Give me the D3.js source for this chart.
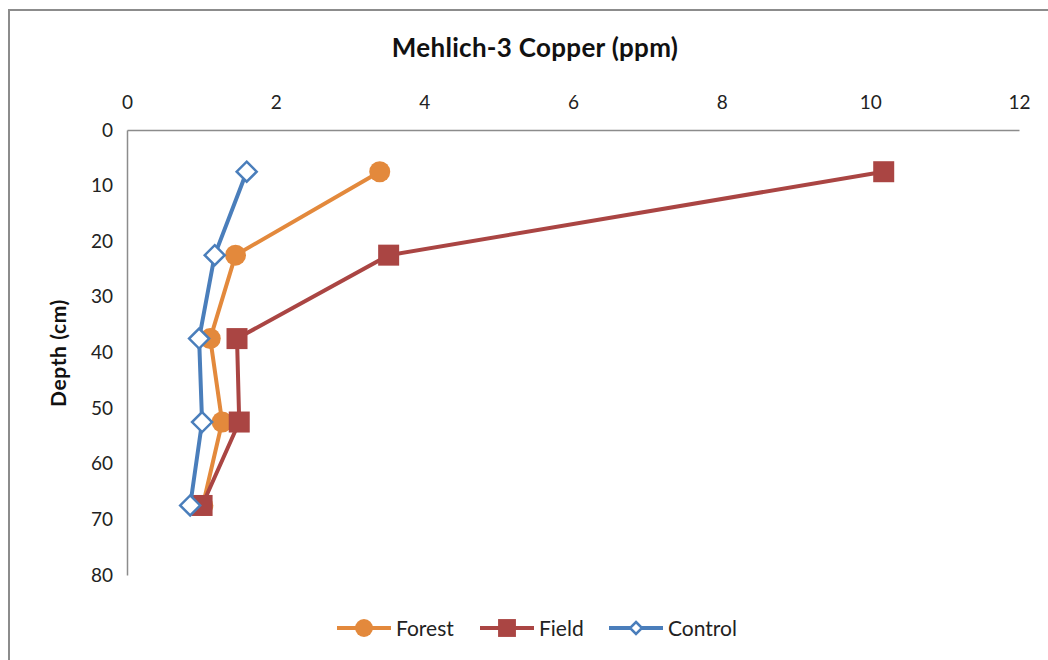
<!DOCTYPE html>
<html>
<head>
<meta charset="utf-8">
<script src="https://cdn.jsdelivr.net/npm/d3@7"></script>
<style>
  html, body { margin: 0; padding: 0; background: #fff; }
  svg { display: block; }
  text { font-family: Lato, "Open Sans", sans-serif; }
</style>
</head>
<body>
<svg id="chart" width="1048" height="660"></svg>
<script>
// Sampling depths (cm) and Mehlich-3 copper concentrations (ppm)
const depths = [7.5, 22.5, 37.5, 52.5, 67.5];
const forest = [3.40, 1.46, 1.12, 1.28, 1.02];
const field = [10.18, 3.52, 1.48, 1.51, 1.01];
const control = [1.61, 1.18, 0.97, 1.01, 0.85];
const xTicks = [0, 2, 4, 6, 8, 10, 12];
const yTicks = [0, 10, 20, 30, 40, 50, 60, 70, 80];

const series = [
  { name: "Forest", values: forest, color: "#E3893C", marker: "circle" },
  { name: "Field", values: field, color: "#AA4543", marker: "square" },
  { name: "Control", values: control, color: "#4A7EBB", marker: "diamond" }
];

const svg = d3.select("#chart");

// Outer frame
svg.append("rect")
  .attr("x", 9).attr("y", 10)
  .attr("width", 1060).attr("height", 680)
  .attr("fill", "none").attr("stroke", "#8c8c8c").attr("stroke-width", 2);

const x = d3.scaleLinear().domain([0, 12]).range([127, 1019]);
const y = d3.scaleLinear().domain([0, 80]).range([130, 575]);

// Title
svg.append("text")
  .attr("x", 535).attr("y", 57)
  .attr("text-anchor", "middle")
  .attr("font-size", 26).attr("font-weight", "bold").attr("fill", "#111")
  .attr("letter-spacing", 0.3)
  .text("Mehlich-3 Copper (ppm)");

// Top x axis
const xAxis = svg.append("g")
  .attr("transform", `translate(0,${y(0)})`)
  .call(d3.axisTop(x).tickValues(xTicks).tickSize(0).tickPadding(21).tickFormat(d3.format("d")));
xAxis.select(".domain").attr("stroke", "#8c8c8c").attr("stroke-width", 1.5);
xAxis.selectAll("text").attr("font-size", 19).attr("fill", "#222").attr("font-family", "Lato, sans-serif");

// Left y axis (depth increases downward)
const yAxis = svg.append("g")
  .attr("transform", `translate(${x(0)},0)`)
  .call(d3.axisLeft(y).tickValues(yTicks).tickSize(0).tickPadding(14).tickFormat(d3.format("d")));
yAxis.select(".domain").attr("stroke", "#8c8c8c").attr("stroke-width", 1.5);
yAxis.selectAll("text").attr("font-size", 19).attr("fill", "#222").attr("font-family", "Lato, sans-serif");

// Y axis title
svg.append("text")
  .attr("transform", "translate(66,353) rotate(-90)")
  .attr("text-anchor", "middle")
  .attr("font-size", 21).attr("font-weight", "bold").attr("fill", "#111")
  .attr("letter-spacing", 0.6)
  .text("Depth (cm)");

const line = d3.line().x(d => x(d[0])).y(d => y(d[1]));

function drawMarker(g, type, color, cx, cy, scale) {
  const s = scale || 1;
  if (type === "circle") {
    g.append("circle").attr("cx", cx).attr("cy", cy).attr("r", 10.5 * s).attr("fill", color);
  } else if (type === "square") {
    g.append("rect").attr("x", cx - 10.5 * s).attr("y", cy - 10.5 * s)
      .attr("width", 21 * s).attr("height", 21 * s).attr("fill", color);
  } else {
    const r = 10 * s;
    g.append("path")
      .attr("d", `M${cx},${cy - r}L${cx + r},${cy}L${cx},${cy + r}L${cx - r},${cy}Z`)
      .attr("fill", "#fff").attr("stroke", color).attr("stroke-width", 2.5);
  }
}

// Series lines and markers
series.forEach(s => {
  const pts = s.values.map((v, i) => [v, depths[i]]);
  const g = svg.append("g");
  g.append("path").datum(pts)
    .attr("d", line)
    .attr("fill", "none").attr("stroke", s.color).attr("stroke-width", 4)
    .attr("stroke-linejoin", "round");
  pts.forEach(p => drawMarker(g, s.marker, s.color, x(p[0]), y(p[1])));
});

// Legend
const legendY = 628;
const legendX = [337, 480, 609];
series.forEach((s, i) => {
  const g = svg.append("g");
  const x0 = legendX[i];
  g.append("line").attr("x1", x0).attr("x2", x0 + 54)
    .attr("y1", legendY).attr("y2", legendY)
    .attr("stroke", s.color).attr("stroke-width", 4);
  drawMarker(g, s.marker, s.color, x0 + 27, legendY, s.marker === "diamond" ? 0.6 : 0.85);
  g.append("text").attr("x", x0 + 59).attr("y", legendY + 7.5)
    .attr("font-size", 21).attr("fill", "#222")
    .text(s.name);
});
</script>
</body>
</html>
